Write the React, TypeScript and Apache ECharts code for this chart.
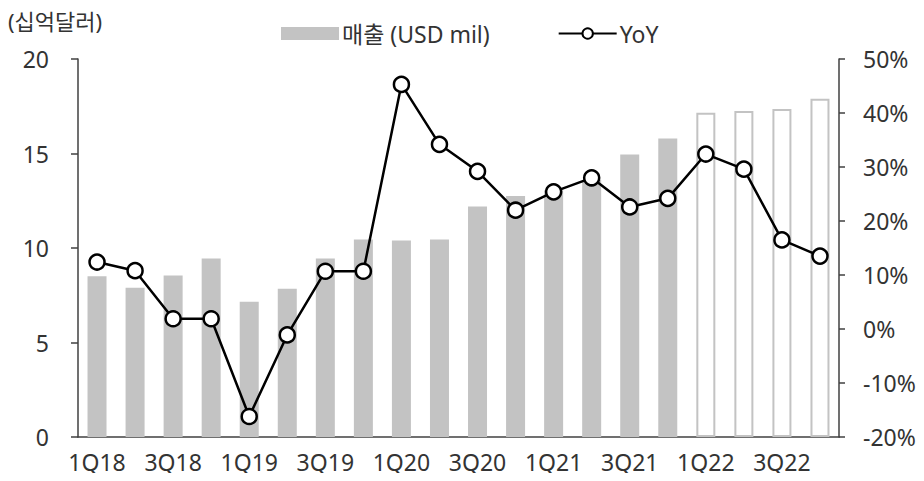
import React, { useEffect, useRef } from "react";
import * as echarts from "echarts";

const categories = [
  "1Q18", "2Q18", "3Q18", "4Q18",
  "1Q19", "2Q19", "3Q19", "4Q19",
  "1Q20", "2Q20", "3Q20", "4Q20",
  "1Q21", "2Q21", "3Q21", "4Q21",
  "1Q22", "2Q22", "3Q22", "4Q22",
];
const revenue = [
  8.5, 7.9, 8.55, 9.45,
  7.15, 7.85, 9.45, 10.45,
  10.4, 10.45, 12.2, 12.75,
  13.05, 13.6, 14.95, 15.8,
  17.15, 17.25, 17.35, 17.9,
];
const forecast = [
  false, false, false, false,
  false, false, false, false,
  false, false, false, false,
  false, false, false, false,
  true, true, true, true,
];
const yoy = [
  12.4, 10.8, 1.9, 1.9,
  -16.2, -1.1, 10.7, 10.7,
  45.3, 34.2, 29.2, 22.0,
  25.4, 28.0, 22.6, 24.2,
  32.4, 29.6, 16.5, 13.5,
];
const leftUnit = "(십억달러)";
const barName = "매출 (USD mil)";
const lineName = "YoY";

const FONT = "'Noto Sans', 'Noto Sans CJK KR', sans-serif";
const TEXT = "#333333";
const AXIS = "#404040";
const BAR = "#c3c3c3";

export default function App() {
  const ref = useRef<HTMLDivElement>(null);
  useEffect(() => {
    if (!ref.current) return;
    const chart = echarts.init(ref.current, null, { renderer: "svg" });
    chart.setOption({
      animation: false,
      backgroundColor: "#ffffff",
      textStyle: { fontFamily: FONT, color: TEXT },
      graphic: [
        {
          type: "text",
          left: 8,
          top: 10,
          style: { text: leftUnit, font: `22px ${FONT}`, fill: TEXT },
        },
      ],
      legend: {
        left: 276,
        top: 17,
        itemWidth: 58,
        itemHeight: 13,
        itemGap: 68,
        textStyle: { fontSize: 23, color: TEXT, fontFamily: FONT, padding: [0, 0, 0, -2] },
        data: [
          { name: barName, icon: "rect" },
          { name: lineName },
        ],
      },
      grid: { left: 78, right: 85, top: 59, bottom: 44 },
      xAxis: {
        type: "category",
        data: categories,
        boundaryGap: true,
        axisLine: { lineStyle: { color: AXIS, width: 1.5 } },
        axisTick: { interval: 0, length: 5, lineStyle: { color: AXIS, width: 1.5 } },
        axisLabel: { interval: 1, fontSize: 23, color: TEXT, margin: 13, fontFamily: FONT },
      },
      yAxis: [
        {
          type: "value",
          min: 0,
          max: 20,
          interval: 5,
          splitLine: { show: false },
          axisLine: { show: true, lineStyle: { color: AXIS, width: 1.5 } },
          axisTick: { show: true, length: 7, lineStyle: { color: AXIS, width: 1.5 } },
          axisLabel: { fontSize: 23, color: TEXT, margin: 29, fontFamily: FONT },
        },
        {
          type: "value",
          min: -20,
          max: 50,
          interval: 10,
          splitLine: { show: false },
          axisLine: { show: true, lineStyle: { color: AXIS, width: 1.5 } },
          axisTick: { show: true, length: 6, lineStyle: { color: AXIS, width: 1.5 } },
          axisLabel: { fontSize: 23, color: TEXT, margin: 24, formatter: "{value}%", fontFamily: FONT },
        },
      ],
      series: [
        {
          name: barName,
          type: "bar",
          barWidth: 19,
          itemStyle: { color: BAR },
          data: revenue.map((v, i) =>
            forecast[i]
              ? { value: v, itemStyle: { color: "#ffffff", borderColor: BAR, borderWidth: 2 } }
              : { value: v }
          ),
        },
        {
          name: lineName,
          type: "line",
          yAxisIndex: 1,
          symbol: "circle",
          symbolSize: 15,
          lineStyle: { color: "#000000", width: 2.5 },
          itemStyle: { color: "#ffffff", borderColor: "#000000", borderWidth: 2.5 },
          data: yoy,
          z: 3,
        },
      ],
    });
    return () => chart.dispose();
  }, []);
  return <div ref={ref} style={{ width: 924, height: 481, margin: -8 }} />;
}
